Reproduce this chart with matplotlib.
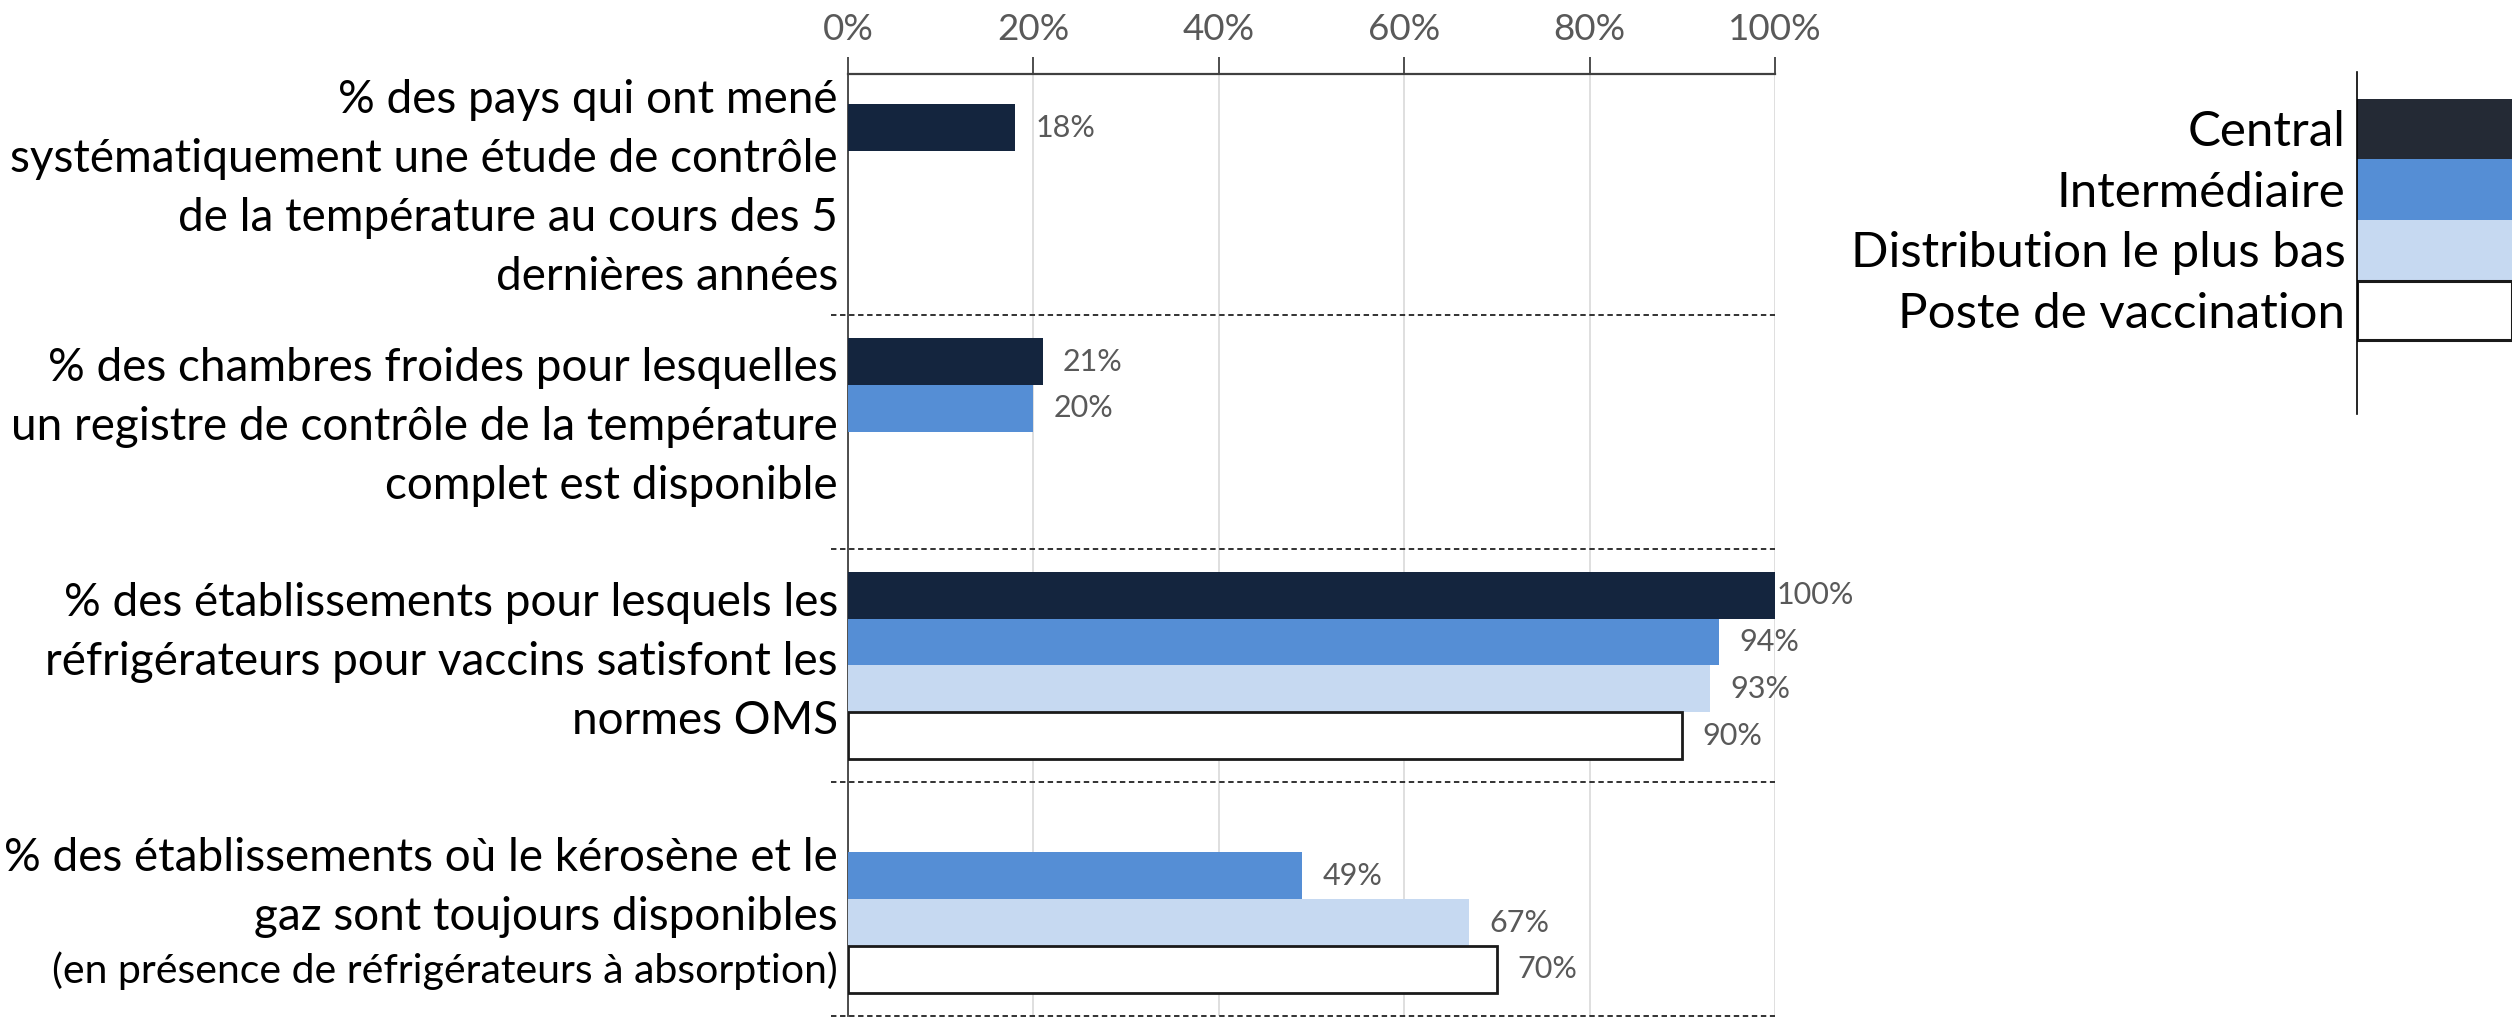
import numpy as np
import matplotlib
matplotlib.use("Agg")
import matplotlib.pyplot as plt
import matplotlib.transforms as mtransforms

plt.rcParams['font.family'] = ['Lato', 'DejaVu Sans']

# ---------------- data ----------------
categories = [
    "% des pays qui ont mené\nsystématiquement une étude de contrôle\nde la température au cours des 5\ndernières années",
    "% des chambres froides pour lesquelles\nun registre de contrôle de la température\ncomplet est disponible",
    "% des établissements pour lesquels les\nréfrigérateurs pour vaccins satisfont les\nnormes OMS",
    "% des établissements où le kérosène et le\ngaz sont toujours disponibles",
]
category_notes = ["", "", "", "(en présence de réfrigérateurs à absorption)"]
series_names = ["Central", "Intermédiaire", "Distribution le plus bas", "Poste de vaccination"]
central = [18, 21, 100, np.nan]
intermediaire = [np.nan, 20, 94, 49]
plus_bas = [np.nan, np.nan, 93, 67]
poste = [np.nan, np.nan, 90, 70]
tick_values = [0, 20, 40, 60, 80, 100]
tick_labels = ["0%", "20%", "40%", "60%", "80%", "100%"]

series = [central, intermediaire, plus_bas, poste]
bar_colors = ["#14253E", "#558ED5", "#C6D9F1", "#FFFFFF"]
legend_colors = ["#242A35", "#558ED5", "#C6D9F1", "#FFFFFF"]
edge_colors = ["none", "none", "none", "#1A1A1A"]

W, H = 2514, 1018
fig = plt.figure(figsize=(W / 100, H / 100), dpi=100)

ax_l, ax_r, ax_t, ax_b = 848, 1775, 74, 1016
ax = fig.add_axes([ax_l / W, 1 - ax_b / H, (ax_r - ax_l) / W, (ax_b - ax_t) / H])

y = np.arange(len(categories))
bar_h = 0.2
offsets = [-0.3, -0.1, 0.1, 0.3]
for vals, off, c, ec in zip(series, offsets, bar_colors, edge_colors):
    v = np.array(vals, dtype=float)
    ok = ~np.isnan(v)
    ax.barh(y[ok] + off, v[ok], height=bar_h, color=c,
            edgecolor=ec, linewidth=2.0 if ec != "none" else 0, zorder=3)
    for yi, vi in zip(y[ok], v[ok]):
        ax.text(min(vi + 2.2, 100.2), yi + off, f"{vi:.0f}%", va='center', ha='left',
                color='#595959', fontsize=22, zorder=4)

ax.set_xlim(0, 100)
ax.set_ylim(len(categories) - 0.5, -0.53)

ax.xaxis.tick_top()
ax.set_xticks(tick_values)
ax.set_xticklabels(tick_labels)
ax.tick_params(axis='x', direction='out', length=12, width=1.3, color='#404040',
               labelsize=26.5, labelcolor='#595959', pad=8)
ax.set_yticks([])
ax.grid(axis='x', color='#D9D9D9', linewidth=1.2, zorder=0)
ax.set_axisbelow(True)
for s in ['right', 'bottom']:
    ax.spines[s].set_visible(False)
ax.spines['top'].set_color('#404040')
ax.spines['top'].set_linewidth(1.6)
ax.spines['left'].set_color('#404040')
ax.spines['left'].set_linewidth(1.3)

# dashed category separators
for b in np.arange(len(categories)) + 0.5:
    ax.axhline(b, xmin=-0.018, xmax=1.0, color='#222222', linestyle=(0, (3, 2)),
               linewidth=1.3, clip_on=False, zorder=2)

# category labels
trans = mtransforms.blended_transform_factory(ax.transAxes, ax.transData)
label_shift = [-0.04, -0.02, -0.015, -0.05]
for yi, (lab, note) in enumerate(zip(categories, category_notes)):
    ax.text(-0.011, yi + label_shift[yi], lab, transform=trans, ha='right', va='center',
            fontsize=33, linespacing=1.5, color='black')
    if note:
        ax.text(-0.011, yi + 0.305, note, transform=trans, ha='right', va='center',
                fontsize=29.5, color='black')

# legend (manual, drawn on its own axes)
lg_l, lg_r, lg_t, lg_b = 2357, 2512, 72, 414
ax_leg = fig.add_axes([lg_l / W, 1 - lg_b / H, (lg_r - lg_l) / W, (lg_b - lg_t) / H])
ax_leg.set_xlim(0, 1)
ax_leg.set_ylim(4.71, -0.946)
for i, (name, c, ec) in enumerate(zip(series_names, legend_colors, edge_colors)):
    ax_leg.barh(i, 1, left=0, height=1.0 if ec == "none" else 0.98, color=c,
                edgecolor=ec, linewidth=2.2 if ec != "none" else 0)
trans_l = mtransforms.blended_transform_factory(ax_leg.transAxes, ax_leg.transData)
for i, name in enumerate(series_names):
    ax_leg.text(-0.075, i + 0.05, name, transform=trans_l, ha='right', va='center',
                fontsize=35.5, color='black')
ax_leg.set_xticks([])
ax_leg.set_yticks([])
for s in ['right', 'bottom', 'top']:
    ax_leg.spines[s].set_visible(False)
ax_leg.spines['left'].set_color('black')
ax_leg.spines['left'].set_linewidth(1.2)

fig.savefig("out.png", dpi=100)
